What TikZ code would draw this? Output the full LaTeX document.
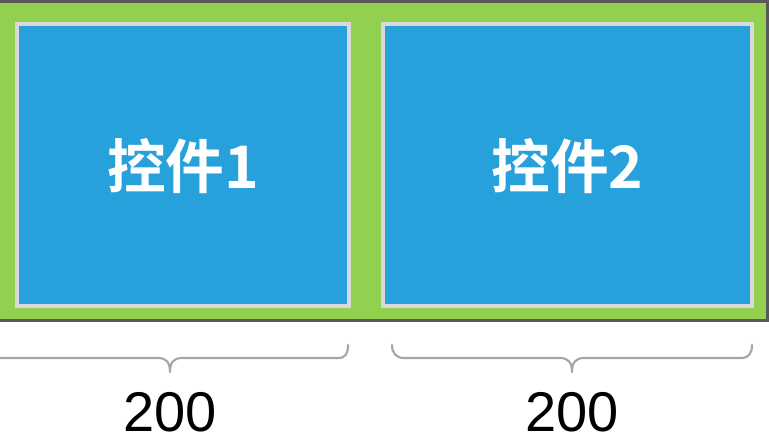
\documentclass[tikz,border=0pt]{standalone}
\usepackage{fontspec}
\setmainfont{Liberation Sans}
\newfontfamily\cjk{Noto Sans CJK SC}[BoldFont={Noto Sans CJK SC Bold}]
\definecolor{bggreen}{HTML}{92D050}
\definecolor{boxblue}{HTML}{27A1DC}
\definecolor{boxrim}{HTML}{D9D9D9}
\definecolor{darkrim}{HTML}{595959}
\definecolor{bracegray}{HTML}{A6A6A6}
\begin{document}
\begin{tikzpicture}[x=0.75pt,y=-0.75pt,
  ctrl/.style={draw=boxrim,fill=boxblue,line width=3pt,inner sep=0pt},
  ctrltext/.style={text=white,font=\cjk\bfseries\fontsize{44}{50}\selectfont},
  bracepath/.style={draw=bracegray,line width=1.6pt,line cap=round,line join=round},
  dimtext/.style={text=black,font=\fontsize{42}{48}\selectfont,anchor=base,inner sep=0pt,text depth=0pt}]
\useasboundingbox (0,0) rectangle (769,437);
\begin{scope}
\clip (0,0) rectangle (769,437);
\draw[fill=bggreen,draw=darkrim,line width=2pt] (-3,1.2) rectangle (767.5,320.5);
\end{scope}
\draw[ctrl] (17,24) rectangle (349,305.7);
\draw[ctrl] (383,24) rectangle (752,305.7);
\node[ctrltext] (t1) at (183,166) {控件1};
\node[ctrltext] (t2) at (567.5,166) {控件2};
% braces
\begin{scope}
\clip (0,0) rectangle (769,437);
\draw[bracepath] (-12,345) .. controls (-12,353) and (-8,358) .. (2,358)
  -- (158,358) .. controls (166,358) and (170,362) .. (170,372)
  .. controls (170,362) and (174,358) .. (182,358)
  -- (338,358) .. controls (346,358) and (348,353) .. (348,345);
\end{scope}
\draw[bracepath] (392,345) .. controls (392,353) and (396,358) .. (404,358)
  -- (560,358) .. controls (568,358) and (572,362) .. (572,372)
  .. controls (572,362) and (576,358) .. (584,358)
  -- (741,358) .. controls (749,358) and (752,353) .. (752,345);
\coordinate (b1) at (170,431.5);
\coordinate (b2) at (572,431.5);
\node[dimtext] (d1) at (b1) {200};
\node[dimtext] (d2) at (b2) {200};
\end{tikzpicture}
\end{document}
